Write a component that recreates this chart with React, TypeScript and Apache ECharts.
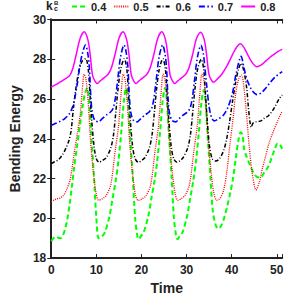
import React, { useEffect, useRef } from "react";
import * as echarts from "echarts";

const seriesNames = ["0.4", "0.5", "0.6", "0.7", "0.8"];
const xTicks = [0, 10, 20, 30, 40, 50];
const yTicks = [18, 20, 22, 24, 26, 28, 30];

const green04: number[][] = [
  [0, 18.85], [0.5, 19.0], [1.05, 19.08], [1.6, 19.02], [2.1, 19.0], [2.6, 19.15], [3.1, 19.48], [3.6, 20.0], [4.1, 20.75], [4.6, 21.65], [5.1, 22.6], [5.7, 23.6], [6.3, 24.6], [7.0, 25.7], [7.5, 26.3], [8.0, 26.55], [8.4, 26.0], [8.8, 24.5], [9.5, 22.0], [10.0, 20.0], [10.5, 19.0],
  [11.2, 19.08], [11.9, 19.3], [12.9, 20.1], [13.6, 21.0], [14.3, 21.9], [14.9, 22.9], [15.55, 24.4], [16.1, 25.9], [16.6, 26.55], [17.0, 26.0], [17.4, 24.5], [18.1, 22.0], [18.6, 20.0], [19.1, 19.1], [19.4, 18.95],
  [19.8, 19.08], [20.5, 19.3], [21.5, 20.1], [22.2, 21.0], [22.9, 21.9], [23.5, 22.9], [24.15, 24.4], [24.7, 25.9], [25.2, 26.55], [25.6, 26.0], [26.0, 24.5], [26.7, 22.0], [27.2, 20.0], [27.7, 19.1], [28.0, 18.95],
  [28.4, 19.08], [29.1, 19.3], [30.1, 20.1], [30.8, 21.0], [31.5, 21.9], [32.1, 22.9], [32.75, 24.4], [33.3, 25.85], [33.8, 26.45], [34.2, 25.9], [34.6, 24.4], [35.3, 22.0], [35.8, 20.4], [36.4, 19.7], [37.0, 19.48],
  [37.6, 19.6], [38.3, 20.0], [39.0, 20.6], [39.7, 21.3], [40.2, 21.87], [40.9, 23.0], [41.5, 23.93], [42.0, 24.33], [42.4, 24.2], [42.75, 23.5], [43.3, 23.1], [44.1, 22.66], [44.8, 22.3], [45.5, 22.1], [46.4, 22.05], [47.2, 22.3], [48.1, 22.6], [48.8, 23.0], [49.5, 23.45], [50.2, 23.77], [50.7, 23.7], [51.2, 23.5],
];

const red05: number[][] = [
  [0, 20.83], [0.7, 20.93], [1.4, 20.99], [2.0, 21.02], [2.7, 21.15], [3.4, 21.45], [4.1, 21.87], [4.6, 22.5], [5.1, 23.3], [5.8, 24.3], [6.45, 25.3], [6.9, 26.5], [7.3, 27.25], [7.7, 27.0], [8.2, 25.8], [8.8, 23.6], [9.5, 22.0], [10.0, 21.2], [10.5, 20.91],
  [11.3, 20.98], [12.2, 21.15], [13.2, 21.7], [14.2, 23.45], [14.9, 24.6], [15.5, 26.3], [15.95, 27.25], [16.35, 27.0], [16.85, 25.8], [17.45, 23.6], [18.15, 22.0], [18.65, 21.2], [19.25, 20.9],
  [20.15, 20.98], [21.05, 21.15], [22.05, 21.7], [23.05, 23.45], [23.75, 24.6], [24.35, 26.3], [24.8, 27.25], [25.2, 27.0], [25.7, 25.8], [26.3, 23.6], [27.0, 22.0], [27.5, 21.2], [28.1, 20.9],
  [28.75, 20.98], [29.65, 21.15], [30.65, 21.7], [31.65, 23.45], [32.35, 24.6], [32.95, 26.3], [33.4, 27.25], [33.8, 27.0], [34.3, 25.8], [34.9, 23.6], [35.6, 22.0], [36.1, 21.2], [36.7, 20.91],
  [37.4, 21.0], [38.2, 21.4], [38.9, 22.3], [39.6, 23.7], [40.3, 25.0], [40.9, 26.3], [41.6, 27.05], [42.2, 27.2], [42.7, 26.6], [43.3, 25.2], [43.9, 23.6], [44.6, 22.2], [45.4, 21.42], [46.1, 21.8], [46.8, 22.5], [47.5, 23.1], [48.3, 23.8], [49.2, 24.35], [50.2, 24.9], [51.2, 25.4],
];

const black06: number[][] = [
  [0, 22.75], [0.8, 22.85], [1.6, 22.95], [2.5, 23.2], [3.3, 23.55], [3.9, 23.9], [4.4, 24.4], [4.9, 25.5], [5.5, 26.6], [6.2, 27.5], [6.9, 27.92], [7.65, 28.03], [8.2, 27.5], [8.6, 26.2], [8.95, 25.0], [9.5, 23.6], [10.0, 23.0], [10.6, 22.82],
  [11.3, 22.9], [12.2, 23.06], [13.2, 23.54], [13.8, 24.2], [14.3, 25.3], [14.8, 26.5], [15.4, 27.5], [16.2, 28.03], [16.75, 27.5], [17.15, 26.2], [17.5, 25.0], [18.05, 23.6], [18.6, 23.0], [19.3, 22.82],
  [20.0, 22.9], [20.75, 23.06], [21.75, 23.54], [22.35, 24.2], [22.85, 25.3], [23.35, 26.5], [23.95, 27.5], [24.75, 28.03], [25.3, 27.5], [25.7, 26.2], [26.05, 25.0], [26.6, 23.6], [27.15, 23.0], [27.9, 22.82],
  [28.55, 22.9], [29.25, 23.06], [30.25, 23.54], [30.85, 24.2], [31.35, 25.3], [31.85, 26.5], [32.45, 27.5], [33.25, 28.0], [33.8, 27.5], [34.2, 26.2], [34.55, 25.0], [35.1, 23.6], [35.7, 23.0], [36.5, 22.88],
  [37.3, 23.0], [38.2, 23.4], [38.8, 23.9], [39.5, 24.8], [40.2, 25.9], [40.85, 26.8], [41.5, 27.5], [42.1, 27.8], [42.8, 27.3], [43.3, 26.6], [43.7, 25.6], [44.05, 24.85], [44.35, 24.57], [44.7, 24.78], [45.3, 24.85], [46.5, 24.9], [47.3, 25.05], [48.1, 25.15], [49.0, 25.4], [49.6, 25.62], [50.5, 26.0], [51.2, 26.2],
];

const blue07: number[][] = [
  [0, 24.68], [1, 24.78], [2, 24.88], [3, 25.02], [4, 25.25], [4.8, 25.65], [5.3, 26.15], [5.8, 26.8], [6.3, 27.6], [6.8, 28.2], [7.6, 28.72], [8.1, 28.3], [8.45, 27.6], [8.8, 26.0], [9.15, 25.25], [9.7, 24.92], [10.5, 24.85],
  [11.15, 24.98], [12.25, 25.2], [13.15, 25.35], [13.75, 25.55], [14.25, 26.1], [14.75, 27.0], [15.35, 28.1], [16.15, 28.72], [16.65, 28.3], [17.0, 27.6], [17.35, 26.0], [17.7, 25.25], [18.25, 24.92], [19.05, 24.85],
  [19.7, 24.98], [20.8, 25.2], [21.7, 25.35], [22.3, 25.55], [22.8, 26.1], [23.3, 27.0], [23.9, 28.1], [24.7, 28.72], [25.2, 28.3], [25.55, 27.6], [25.9, 26.0], [26.25, 25.25], [26.8, 24.92], [27.6, 24.85],
  [28.2, 24.98], [29.3, 25.2], [30.2, 25.35], [30.8, 25.55], [31.3, 26.1], [31.8, 27.0], [32.4, 28.1], [33.2, 28.7], [33.7, 28.3], [34.05, 27.6], [34.5, 26.6], [35.0, 25.6], [35.5, 25.1], [36.1, 24.9],
  [36.9, 24.98], [38.2, 25.2], [39.2, 25.6], [40.2, 26.32], [41.0, 27.3], [42.1, 28.15], [42.7, 27.6], [43.3, 27.05], [44.0, 26.65], [44.7, 26.38], [45.6, 26.22], [46.6, 26.32], [47.6, 26.56], [48.6, 26.85], [49.6, 27.1], [50.4, 27.25], [51.2, 27.38],
];

const magenta08: number[][] = [
  [0, 26.6], [1, 26.72], [2, 26.86], [3, 27.0], [4.1, 27.19], [4.8, 27.55], [5.5, 28.2], [6.4, 29.05], [7.3, 29.38], [8.1, 29.0], [8.6, 28.3], [9.15, 27.2], [9.7, 26.9], [10.2, 26.78],
  [10.8, 26.9], [11.6, 27.05], [12.6, 27.25], [13.3, 27.55], [14.1, 28.2], [15.0, 29.05], [15.9, 29.38], [16.7, 29.0], [17.2, 28.3], [17.75, 27.2], [18.3, 26.9], [18.8, 26.78],
  [19.4, 26.9], [20.2, 27.05], [21.2, 27.25], [21.9, 27.55], [22.7, 28.2], [23.6, 29.05], [24.5, 29.38], [25.3, 29.0], [25.8, 28.3], [26.35, 27.2], [26.9, 26.9], [27.4, 26.78],
  [28.0, 26.9], [28.8, 27.05], [29.8, 27.25], [30.5, 27.55], [31.3, 28.2], [32.2, 29.05], [33.1, 29.36], [33.9, 29.0], [34.4, 28.3], [34.95, 27.25], [35.5, 26.95], [36.0, 26.84],
  [36.8, 27.0], [37.8, 27.25], [38.8, 27.6], [39.8, 28.05], [40.8, 28.5], [41.9, 28.78], [42.7, 28.6], [43.5, 28.25], [44.5, 27.85], [45.6, 27.62], [46.5, 27.7], [47.6, 27.92], [48.5, 28.1], [49.4, 28.25], [50.3, 28.4], [51.2, 28.5],
];

const FONT = '"Liberation Sans", Arial, sans-serif';
const INK = "#222222";

export default function App() {
  const ref = useRef<HTMLDivElement>(null);
  useEffect(() => {
    document.body.style.margin = "0";
    if (!ref.current) return;
    const chart = echarts.init(ref.current, null, { renderer: "svg" });
    const axisLine = { show: true, lineStyle: { color: INK, width: 2 } };
    const axisTick = { show: true, inside: true, length: 4, lineStyle: { color: INK, width: 1 } };
    const labelStyle = { fontFamily: FONT, fontWeight: "bold" as const, fontSize: 12, color: INK };
    const styles = [
      { color: "#00ff00", width: 2, type: [5, 3] },
      { color: "#ff0000", width: 1.3, type: [1, 1.2] },
      { color: "#000000", width: 1.5, type: [4, 2, 1, 2] },
      { color: "#0000ff", width: 1.6, type: [6, 2.5, 1.5, 2.5] },
      { color: "#ff00ff", width: 1.5, type: "solid" },
    ];
    const datasets = [green04, red05, black06, blue07, magenta08];
    chart.setOption({
      animation: false,
      grid: { left: 31.5, right: 1, top: 19.5, bottom: 29 },
      legend: {
        data: seriesNames,
        left: 71,
        top: 1,
        padding: 0,
        itemWidth: 14,
        itemHeight: 12,
        itemGap: 7,
        itemStyle: { opacity: 0 },
        textStyle: { fontFamily: FONT, fontWeight: "bold", fontSize: 11, color: INK },
      },
      graphic: [
        { type: "text", x: 46, y: 5.8, style: { text: "k", font: `bold 12px ${FONT}`, fill: INK, textVerticalAlign: "middle" } },
        { type: "text", x: 54, y: 3.2, style: { text: "B", font: `bold 6px ${FONT}`, fill: INK, textVerticalAlign: "middle" } },
        { type: "text", x: 54, y: 8.2, style: { text: "c", font: `bold 7px ${FONT}`, fill: INK, textVerticalAlign: "middle" } },
      ],
      xAxis: [
        {
          type: "value", min: 0, max: 51.2, interval: 10, position: "bottom",
          axisLine, axisTick, splitLine: { show: false },
          axisLabel: {
            ...labelStyle, margin: 6,
            formatter: (v: number) => (xTicks.indexOf(v) >= 0 ? String(v) : ""),
          },
          name: "Time", nameLocation: "middle", nameGap: 17,
          nameTextStyle: { fontFamily: FONT, fontWeight: "bold", fontSize: 14, color: INK },
        },
        {
          type: "value", min: 0, max: 51.2, interval: 10, position: "top",
          axisLine, axisTick, splitLine: { show: false }, axisLabel: { show: false },
        },
      ],
      yAxis: [
        {
          type: "value", min: 18, max: 30, interval: 2, position: "left",
          axisLine, axisTick, splitLine: { show: false },
          axisLabel: {
            ...labelStyle, margin: 5,
            formatter: (v: number) => (yTicks.indexOf(v) >= 0 ? String(v) : ""),
          },
          name: "Bending Energy", nameLocation: "middle", nameGap: 18,
          nameTextStyle: { fontFamily: FONT, fontWeight: "bold", fontSize: 14, color: INK },
        },
        {
          type: "value", min: 18, max: 30, interval: 2, position: "right",
          axisLine, axisTick, splitLine: { show: false }, axisLabel: { show: false },
        },
      ],
      series: seriesNames.map((name, i) => ({
        name,
        type: "line",
        data: datasets[i],
        showSymbol: false,
        symbol: "none",
        smooth: 0.3,
        lineStyle: styles[i],
        itemStyle: { color: styles[i].color },
        z: 2 + i,
      })),
    });
    return () => chart.dispose();
  }, []);
  return <div ref={ref} style={{ position: "absolute", left: 0, top: 0, width: 286, height: 300 }} />;
}
